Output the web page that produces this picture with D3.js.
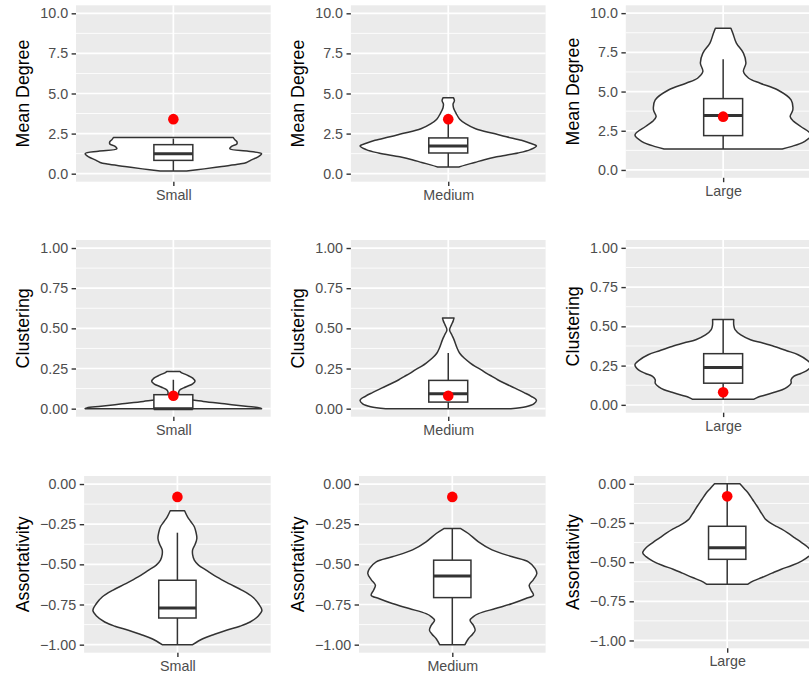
<!DOCTYPE html>
<html>
<head>
<meta charset="utf-8">
<script src="https://cdn.jsdelivr.net/npm/d3@7"></script>
<style>
body { margin: 0; background: #fff; }
svg { display: block; font-family: "Liberation Sans", Arial, sans-serif; }
</style>
</head>
<body>
<svg id="chart"></svg>
<script>
var width = 809;
var height = 674;

var sizes = ["Small", "Medium", "Large"];
var metrics = ["Mean Degree", "Clustering", "Assortativity"];
var metricLimits = [[0, 10], [0, 1], [-1, 0]];
var metricTicks = [[0, 2.5, 5, 7.5, 10], [0, 0.25, 0.5, 0.75, 1], [-1, -0.75, -0.5, -0.25, 0]];
var metricFormats = [".1f", ".2f", ".2f"];
// red point = value of the observed network
var observed = [3.4, 0.08, -0.08];

// violin outlines: [value, relative half width]
var violinDegree = [
  [[0.17,0.15],[0.3,0.35],[0.45,0.55],[0.6,0.75],[0.7,0.83],[0.85,0.88],[1.05,0.96],[1.25,1.0],[1.4,0.85],[1.55,0.64],[1.7,0.66],[1.85,0.72],[2.0,0.72],[2.1,0.7],[2.25,0.68]],
  [[0.42,0.12],[0.55,0.2],[0.7,0.3],[0.875,0.41],[1.05,0.55],[1.29,0.79],[1.5,0.93],[1.73,1.0],[1.9,0.93],[2.08,0.83],[2.3,0.66],[2.5,0.52],[2.8,0.31],[3.1,0.2],[3.4,0.13],[3.75,0.09],[4.1,0.06],[4.35,0.055],[4.55,0.07],[4.73,0.06]],
  [[1.34,0.67],[1.49,0.77],[1.81,0.92],[2.23,1.0],[2.77,0.88],[3.1,0.8],[3.4,0.76],[3.83,0.79],[4.47,0.77],[5.1,0.62],[5.53,0.42],[5.85,0.29],[6.28,0.23],[6.81,0.258],[7.45,0.23],[8.09,0.15],[8.72,0.11],[9.04,0.088]]
];
var violinClustering = [
  [[0,1.0],[0.005,0.98],[0.015,0.82],[0.03,0.58],[0.045,0.34],[0.06,0.15],[0.075,0.08],[0.095,0.06],[0.115,0.07],[0.135,0.14],[0.155,0.22],[0.17,0.245],[0.19,0.22],[0.21,0.15],[0.225,0.09],[0.232,0.075]],
  [[0,0.71],[0.012,0.88],[0.03,0.97],[0.052,1.0],[0.077,0.94],[0.1,0.86],[0.129,0.75],[0.155,0.65],[0.18,0.56],[0.2,0.5],[0.218,0.44],[0.243,0.37],[0.265,0.3],[0.284,0.25],[0.315,0.18],[0.345,0.13],[0.378,0.1],[0.43,0.065],[0.46,0.04],[0.49,0.015],[0.52,0.035],[0.545,0.055],[0.564,0.065]],
  [[0.036,0.35],[0.05,0.4],[0.06,0.46],[0.08,0.58],[0.096,0.67],[0.115,0.73],[0.138,0.77],[0.16,0.77],[0.181,0.8],[0.2,0.88],[0.223,0.96],[0.255,1.0],[0.285,0.95],[0.319,0.85],[0.345,0.72],[0.372,0.58],[0.395,0.44],[0.415,0.31],[0.445,0.2],[0.479,0.135],[0.51,0.12],[0.543,0.12]]
];
var violinAssort = [
  [[-1.0,0.18],[-0.963,0.3],[-0.935,0.44],[-0.91,0.58],[-0.885,0.74],[-0.859,0.86],[-0.82,0.96],[-0.786,1.0],[-0.745,0.96],[-0.703,0.89],[-0.66,0.76],[-0.62,0.61],[-0.58,0.47],[-0.536,0.34],[-0.505,0.25],[-0.474,0.2],[-0.44,0.18],[-0.41,0.18],[-0.375,0.21],[-0.339,0.23],[-0.3,0.22],[-0.266,0.2],[-0.235,0.16],[-0.204,0.12],[-0.166,0.085]],
  [[-1.0,0.15],[-0.963,0.19],[-0.935,0.24],[-0.91,0.27],[-0.88,0.25],[-0.848,0.21],[-0.825,0.25],[-0.807,0.31],[-0.775,0.51],[-0.744,0.71],[-0.713,0.87],[-0.692,0.96],[-0.66,0.93],[-0.63,0.91],[-0.595,0.96],[-0.557,1.0],[-0.526,0.98],[-0.484,0.9],[-0.453,0.71],[-0.41,0.47],[-0.36,0.31],[-0.308,0.19],[-0.277,0.1]],
  [[-0.641,0.245],[-0.62,0.31],[-0.598,0.41],[-0.57,0.53],[-0.545,0.64],[-0.52,0.77],[-0.493,0.88],[-0.465,0.96],[-0.44,1.0],[-0.408,0.96],[-0.375,0.88],[-0.345,0.8],[-0.315,0.72],[-0.288,0.64],[-0.265,0.56],[-0.249,0.51],[-0.225,0.45],[-0.2,0.42],[-0.175,0.39],[-0.14,0.35],[-0.1,0.3],[-0.06,0.25],[-0.03,0.2],[0,0.15]]
];
var violins = [violinDegree, violinClustering, violinAssort];

// [lower whisker, q1, median, q3, upper whisker]
var boxDegree = [[0.17,0.83,1.25,1.81,2.19],[0.42,1.29,1.73,2.23,3.2],[1.34,2.19,3.47,4.55,7.06]];
var boxClustering = [[0,0,0,0.087,0.18],[0,0.041,0.093,0.176,0.346],[0.036,0.138,0.238,0.326,0.543]];
var boxAssort = [[-1,-0.834,-0.771,-0.599,-0.303],[-1,-0.707,-0.572,-0.474,-0.277],[-0.641,-0.482,-0.408,-0.271,0]];
var boxes = [boxDegree, boxClustering, boxAssort];

// layout of the 3x3 grid (each cell was its own ggplot)
var colRight = [270.7, 545.6, 820.5];
var titleX = [22.5, 297.5, 572.5];
var rowLayout = [
  {top: 5.3, bottom: [181.7, 181.7, 177.8], w: 194.7},
  {top: 240, bottom: [416.7, 416.7, 412.7], w: 194.7},
  {top: 476, bottom: [652.7, 652.7, 648.3], w: 186.6}
];

var ink = "#333333";
var tickFont = 14.3;

var svg = d3.select("#chart")
    .attr("width", width)
    .attr("height", height);

metrics.forEach(function(metric, r) {
  sizes.forEach(function(size, c) {
    var lay = rowLayout[r];
    var x1 = colRight[c], x0 = x1 - lay.w;
    var top = lay.top, bottom = lay.bottom[c];
    var lim = metricLimits[r];
    var pad = (lim[1] - lim[0]) * 0.05;

    var yScale = d3.scaleLinear()
        .domain([lim[0] - pad, lim[1] + pad])
        .range([bottom, top]);
    var xScale = d3.scalePoint()
        .domain([size])
        .range([x0, x1])
        .padding(0.5);
    var halfWidth = d3.scaleLinear()
        .domain([0, 1])
        .range([0, lay.w * 0.453]);
    var boxHalf = lay.w * 0.1;
    var cx = xScale(size);

    var g = svg.append("g");

    g.append("rect")
        .attr("x", x0).attr("y", top)
        .attr("width", x1 - x0).attr("height", bottom - top)
        .attr("fill", "#EBEBEB");

    var ticks = metricTicks[r];
    var minor = d3.pairs(ticks).map(p => (p[0] + p[1]) / 2);

    g.selectAll(".minor")
      .data(minor)
      .enter()
      .append("line")
        .attr("x1", x0).attr("x2", x1)
        .attr("y1", d => yScale(d)).attr("y2", d => yScale(d))
        .attr("stroke", "#fff")
        .attr("stroke-width", 0.85);
    g.selectAll(".major")
      .data(ticks)
      .enter()
      .append("line")
        .attr("x1", x0).attr("x2", x1)
        .attr("y1", d => yScale(d)).attr("y2", d => yScale(d))
        .attr("stroke", "#fff")
        .attr("stroke-width", 1.7);
    g.append("line")
        .attr("x1", cx).attr("x2", cx)
        .attr("y1", top).attr("y2", bottom)
        .attr("stroke", "#fff")
        .attr("stroke-width", 1.7);

    // violin
    var area = d3.area()
        .curve(d3.curveCatmullRom)
        .y(d => yScale(d[0]))
        .x0(d => cx - halfWidth(d[1]))
        .x1(d => cx + halfWidth(d[1]));
    g.append("path")
        .datum(violins[r][c])
        .attr("d", area)
        .attr("fill", "#fff")
        .attr("stroke", ink)
        .attr("stroke-width", 1.5)
        .attr("stroke-linejoin", "round");

    // box plot
    var b = boxes[r][c];
    g.append("line")
        .attr("x1", cx).attr("x2", cx)
        .attr("y1", yScale(b[0])).attr("y2", yScale(b[1]))
        .attr("stroke", ink).attr("stroke-width", 1.5);
    g.append("line")
        .attr("x1", cx).attr("x2", cx)
        .attr("y1", yScale(b[3])).attr("y2", yScale(b[4]))
        .attr("stroke", ink).attr("stroke-width", 1.5);
    g.append("rect")
        .attr("x", cx - boxHalf)
        .attr("y", yScale(b[3]))
        .attr("width", boxHalf * 2)
        .attr("height", yScale(b[1]) - yScale(b[3]))
        .attr("fill", "#fff")
        .attr("stroke", ink)
        .attr("stroke-width", 1.5);
    g.append("line")
        .attr("x1", cx - boxHalf).attr("x2", cx + boxHalf)
        .attr("y1", yScale(b[2])).attr("y2", yScale(b[2]))
        .attr("stroke", ink).attr("stroke-width", 3);

    g.append("circle")
        .attr("cx", cx)
        .attr("cy", yScale(observed[r]))
        .attr("r", 5.3)
        .attr("fill", "#FF0000");

    // axes
    var yAxis = d3.axisLeft(yScale)
        .tickValues(ticks)
        .tickFormat(d3.format(metricFormats[r]))
        .tickSize(4.4)
        .tickPadding(3.5);
    var xAxis = d3.axisBottom(xScale)
        .tickSize(4.4)
        .tickPadding(3.5);

    var ya = g.append("g")
        .attr("transform", `translate(${x0},0)`)
        .call(yAxis);
    var xa = g.append("g")
        .attr("transform", `translate(0,${bottom})`)
        .call(xAxis);
    [ya, xa].forEach(function(a) {
      a.select(".domain").remove();
      a.selectAll(".tick line").attr("stroke", ink).attr("stroke-width", 1.4);
      a.selectAll(".tick text")
          .attr("fill", "#4D4D4D")
          .attr("font-size", tickFont)
          .attr("font-family", "Liberation Sans, Arial, sans-serif");
    });

    g.append("text")
        .attr("transform", `translate(${titleX[c]},${(top + bottom) / 2}) rotate(-90)`)
        .attr("text-anchor", "middle")
        .attr("dy", "0.35em")
        .attr("font-size", 17.8)
        .attr("fill", "#000")
        .text(metric);
  });
});
</script>
</body>
</html>
